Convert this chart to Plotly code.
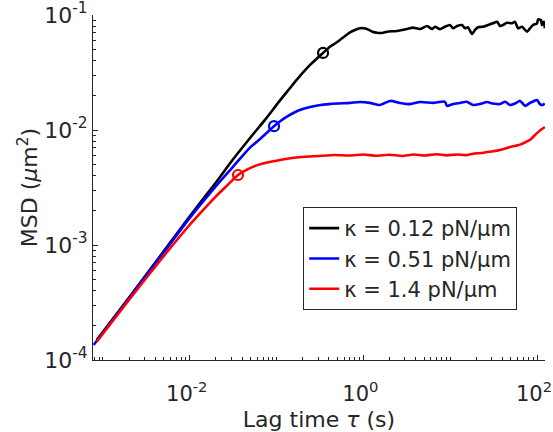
import plotly.graph_objects as go

# ---- data ----
black_tau = [8.5e-4, 2e-3, 5e-3, 0.01, 0.02, 0.03, 0.05, 0.075, 0.109, 0.143, 0.186, 0.243, 0.343,
             0.412, 0.47, 0.537, 0.62, 0.701, 0.80, 0.914, 1.0, 1.10, 1.25, 1.44, 1.65, 1.87, 2.44,
             3.18, 3.72, 4.49, 5.41, 6.17, 6.68, 7.62, 8.71, 9.95, 10.8, 12.0, 13.7, 14.8, 16.0,
             17.8, 19.3, 20.9, 23.9, 27.2, 31.1, 34.6, 37.5, 40.6, 45.1, 51.5, 55.7, 60.4, 67.1,
             76.7, 83.0, 89.9, 100, 103, 111, 114, 120, 123]
black_msd = [1.5e-4, 3.5e-4, 8.8e-4, 1.78e-3, 3.5e-3, 5.3e-3, 8.6e-3, 0.0125, 0.0180, 0.0232,
             0.0295, 0.0368, 0.0468, 0.0530, 0.0565, 0.0607, 0.0660, 0.0707, 0.0740, 0.0766,
             0.0768, 0.0755, 0.0720, 0.0700, 0.0698, 0.0716, 0.0726, 0.0755, 0.0776, 0.0755,
             0.0802, 0.0755, 0.0791, 0.0751, 0.0791, 0.0818, 0.0766, 0.0802, 0.0818, 0.0766,
             0.0782, 0.0684, 0.0741, 0.0782, 0.0791, 0.0818, 0.0847, 0.0875, 0.0802, 0.0818,
             0.0857, 0.0847, 0.0875, 0.0766, 0.0791, 0.0716, 0.0766, 0.0818, 0.0847, 0.0918,
             0.0905, 0.0818, 0.0875, 0.0766]

blue_tau = [7.8e-4, 2e-3, 5e-3, 0.01, 0.02, 0.03, 0.04, 0.05, 0.065, 0.08, 0.0934, 0.11, 0.13,
            0.16, 0.2, 0.25, 0.32, 0.4, 0.5, 0.7, 0.914, 1.19, 1.55, 2.03, 2.64, 3.44, 4.49, 6.34,
            8.7, 9.18, 10.8, 13.0, 15.5, 18.3, 22.0, 26.5, 31.0, 37.5, 43.0, 48.9, 56.0, 63.7,
            73.0, 83.0, 90.0, 100, 108, 117, 123]
blue_msd = [1.35e-4, 3.45e-4, 8.6e-4, 1.72e-3, 3.25e-3, 4.6e-3, 5.9e-3, 7.1e-3, 8.4e-3, 9.7e-3,
            0.0108, 0.0119, 0.0130, 0.0142, 0.0152, 0.0159, 0.0165, 0.0168, 0.0170, 0.0172,
            0.0175, 0.0172, 0.0165, 0.0179, 0.0172, 0.0168, 0.0175, 0.0172, 0.0176, 0.0162,
            0.0168, 0.0172, 0.0176, 0.0165, 0.0168, 0.0175, 0.0170, 0.0168, 0.0176, 0.0165,
            0.0170, 0.0179, 0.0162, 0.0172, 0.0177, 0.0182, 0.0168, 0.0165, 0.0170]

red_tau = [8.5e-4, 2e-3, 5e-3, 0.01, 0.015, 0.02, 0.027, 0.0359, 0.045, 0.06, 0.08, 0.109, 0.15,
           0.19, 0.3, 0.47, 0.7, 1.0, 1.4, 2.0, 2.8, 3.8, 5.0, 7.0, 9.0, 12.0, 15.0, 19.0, 23.0,
           26.5, 30.0, 36.0, 43.0, 48.9, 57.0, 65.0, 75.0, 83.0, 90.0, 100, 110, 123]
red_msd = [1.45e-4, 3.35e-4, 8.0e-4, 1.5e-3, 2.1e-3, 2.65e-3, 3.3e-3, 4.06e-3, 4.5e-3, 4.95e-3,
           5.25e-3, 5.48e-3, 5.70e-3, 5.82e-3, 5.94e-3, 6.06e-3, 6.00e-3, 6.12e-3, 5.98e-3,
           6.10e-3, 5.95e-3, 6.12e-3, 6.00e-3, 6.15e-3, 6.02e-3, 6.12e-3, 6.05e-3, 6.25e-3,
           6.30e-3, 6.44e-3, 6.50e-3, 6.65e-3, 6.90e-3, 7.11e-3, 7.30e-3, 7.50e-3, 7.90e-3,
           8.20e-3, 8.70e-3, 9.40e-3, 1.00e-2, 1.06e-2]

circle_tau = [0.343, 0.0934, 0.0359]
circle_msd = [0.0468, 0.0108, 0.00406]

series_names = ["κ = 0.12 pN/μm", "κ = 0.51 pN/μm", "κ = 1.4 pN/μm"]
series_colors = ["#000000", "#0000FF", "#FF0000"]

x_tickvals = [1e-2, 1e0, 1e2]
x_ticktext = ["10<sup>-2</sup>", "10<sup>0</sup>", "10<sup>2</sup>"]
y_tickvals = [1e-4, 1e-3, 1e-2, 1e-1]
y_ticktext = ["10<sup>-4</sup>", "10<sup>-3</sup>", "10<sup>-2</sup>", "10<sup>-1</sup>"]

FONT = "DejaVu Sans, Arial, sans-serif"
AX = "#262626"

fig = go.Figure()
for tau, msd, name, col in zip([black_tau, blue_tau, red_tau], [black_msd, blue_msd, red_msd],
                               series_names, series_colors):
    fig.add_trace(go.Scatter(x=tau, y=msd, mode="lines", name=name,
                             line=dict(color=col, width=2.6, shape="spline", smoothing=0.6)))
for t, m, col in zip(circle_tau, circle_msd, series_colors):
    fig.add_trace(go.Scatter(x=[t], y=[m], mode="markers", showlegend=False,
                             marker=dict(symbol="circle-open", size=10, color=col,
                                         line=dict(color=col, width=2.2))))

x_minor = [k * 10.0 ** e for e in range(-4, 3) for k in range(1, 10)]
y_minor = [k * 10.0 ** e for e in range(-5, 0) for k in range(1, 10)]

fig.update_layout(
    width=553, height=432,
    margin=dict(l=93, r=8, t=15, b=72),
    paper_bgcolor="white", plot_bgcolor="white",
    font=dict(family=FONT, size=22, color=AX),
    showlegend=True,
    legend=dict(x=0.465, y=0.4435, xanchor="left", yanchor="top",
                bordercolor=AX, borderwidth=1, bgcolor="white",
                font=dict(family=FONT, size=21, color=AX), tracegroupgap=0),
    xaxis=dict(type="log", range=[-3.115, 2.092], tickmode="array",
               tickvals=x_tickvals, ticktext=x_ticktext, automargin=False,
               ticklabeloverflow="allow", ticklabelstandoff=15, ticklabelshift=-3,
               ticks="inside", ticklen=5, tickwidth=1, tickcolor=AX,
               showline=True, linecolor=AX, linewidth=1, showgrid=False, zeroline=False,
               minor=dict(tickmode="array", tickvals=x_minor, ticks="inside", ticklen=3,
                          tickcolor=AX, showgrid=False),
               title=dict(text="Lag time <i>τ</i> (s)", font=dict(size=22), standoff=6),
               tickfont=dict(size=21)),
    yaxis=dict(type="log", range=[-4, -1], tickmode="array",
               tickvals=y_tickvals, ticktext=y_ticktext, automargin=False,
               ticklabeloverflow="allow",
               ticks="inside", ticklen=5, tickwidth=1, tickcolor=AX,
               showline=True, linecolor=AX, linewidth=1, showgrid=False, zeroline=False,
               minor=dict(tickmode="array", tickvals=y_minor, ticks="inside", ticklen=3,
                          tickcolor=AX, showgrid=False),
               title=dict(text="MSD (<i>μ</i>m<sup>2</sup>)", font=dict(size=22), standoff=0),
               tickfont=dict(size=22)),
)

fig.write_html("out.html", post_script="document.body.style.margin='0';",
               config={"displayModeBar": False})
